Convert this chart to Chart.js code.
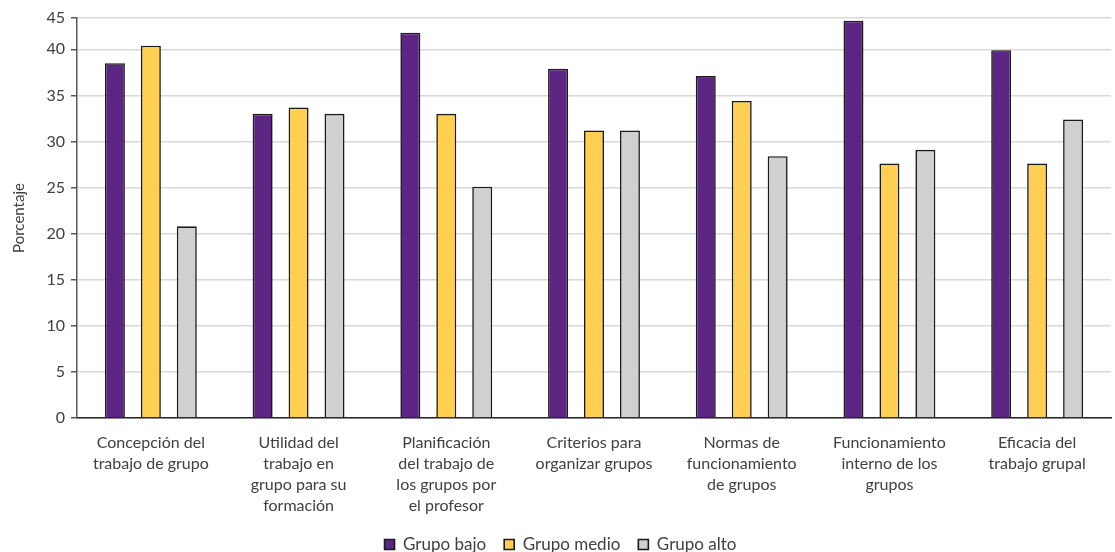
<!DOCTYPE html>
<html lang="es">
<head>
<meta charset="utf-8">
<title>Porcentaje por grupo</title>
<script src="https://cdn.jsdelivr.net/npm/chart.js@4"></script>
<style>
  html, body { margin: 0; padding: 0; background: #fff; overflow: hidden; }
  #wrap { width: 1115px; height: 552px; position: relative; }
</style>
</head>
<body>
<div id="wrap"><canvas id="myChart"></canvas></div>
<script>
// categorías (etiquetas en varias líneas como en el original)
const categories = [
  ["Concepción del", "trabajo de grupo"],
  ["Utilidad del", "trabajo en", "grupo para su", "formación"],
  ["Planificación", "del trabajo de", "los grupos por", "el profesor"],
  ["Criterios para", "organizar grupos"],
  ["Normas de", "funcionamiento", "de grupos"],
  ["Funcionamiento", "interno de los", "grupos"],
  ["Eficacia del", "trabajo grupal"]
];

const grupoBajo  = [38.5, 33.0, 41.8, 37.9, 37.1, 43.1, 39.9];
const grupoMedio = [40.4, 33.7, 33.0, 31.2, 34.4, 27.6, 27.6];
const grupoAlto  = [20.8, 33.0, 25.1, 31.2, 28.4, 29.1, 32.4];

// el eje del original termina un poco por debajo de 45 aunque lo rotula "45"
const yTickValues = [0, 5, 10, 15, 20, 25, 30, 35, 40, 43.4];
const yTickLabels = ["0", "5", "10", "15", "20", "25", "30", "35", "40", "45"];

document.addEventListener("DOMContentLoaded", () => {
  const canvas = document.getElementById("myChart");
  const textColor = "#404040";
  const font = { family: "Lato, 'Open Sans', sans-serif", size: 16 };

  const series = [
    { label: "Grupo bajo",  data: grupoBajo,  color: "#5c2483" },
    { label: "Grupo medio", data: grupoMedio, color: "#ffcf52" },
    { label: "Grupo alto",  data: grupoAlto,  color: "#d0d0d0" },
  ];

  const datasets = series.map(({ label, data, color }) => ({
    label,
    data,
    backgroundColor: color,
    borderColor: "#1a1a1a",
    borderWidth: 1.6,
    borderSkipped: "bottom",
    categoryPercentage: 0.73,
    barPercentage: 0.556,
  }));

  new Chart(canvas, {
    type: "bar",
    data: { labels: categories, datasets },
    options: {
      responsive: true,
      maintainAspectRatio: false,
      animation: false,
      layout: { padding: { top: 18, right: 4, left: 10, bottom: -11 } },
      plugins: {
        legend: {
          position: "bottom",
          labels: {
            color: textColor,
            font: { ...font, size: 17 },
            boxWidth: 10,
            boxHeight: 10,
            padding: 18,
          },
        },
        tooltip: { enabled: false },
      },
      scales: {
        x: {
          grid: { display: false },
          border: { color: "#262626", width: 1.5 },
          ticks: {
            color: textColor,
            font: { ...font, lineHeight: 1.32 },
            maxRotation: 0,
            autoSkip: false,
            padding: 6,
          },
          // alto fijo para que quepan las cuatro líneas sin recortarse
          afterFit: (scale) => { scale.height = 100; },
        },
        y: {
          min: 0,
          max: yTickValues[yTickValues.length - 1],
          afterBuildTicks: (scale) => {
            scale.ticks = yTickValues.map(v => ({ value: v }));
          },
          grid: {
            color: "#d9d9d9",
            lineWidth: 1.5,
            tickColor: "#595959",
            tickLength: 6,
          },
          border: { color: "#595959", width: 1.5 },
          ticks: {
            color: textColor,
            font,
            padding: 6,
            callback: (v, i) => yTickLabels[i],
          },
          title: {
            display: true,
            text: "Porcentaje",
            color: textColor,
            font: { ...font, size: 15 },
            padding: { top: 0, bottom: 4 },
          },
          afterFit: (scale) => { scale.width = 67; },
        },
      },
    },
  });
});
</script>
</body>
</html>
